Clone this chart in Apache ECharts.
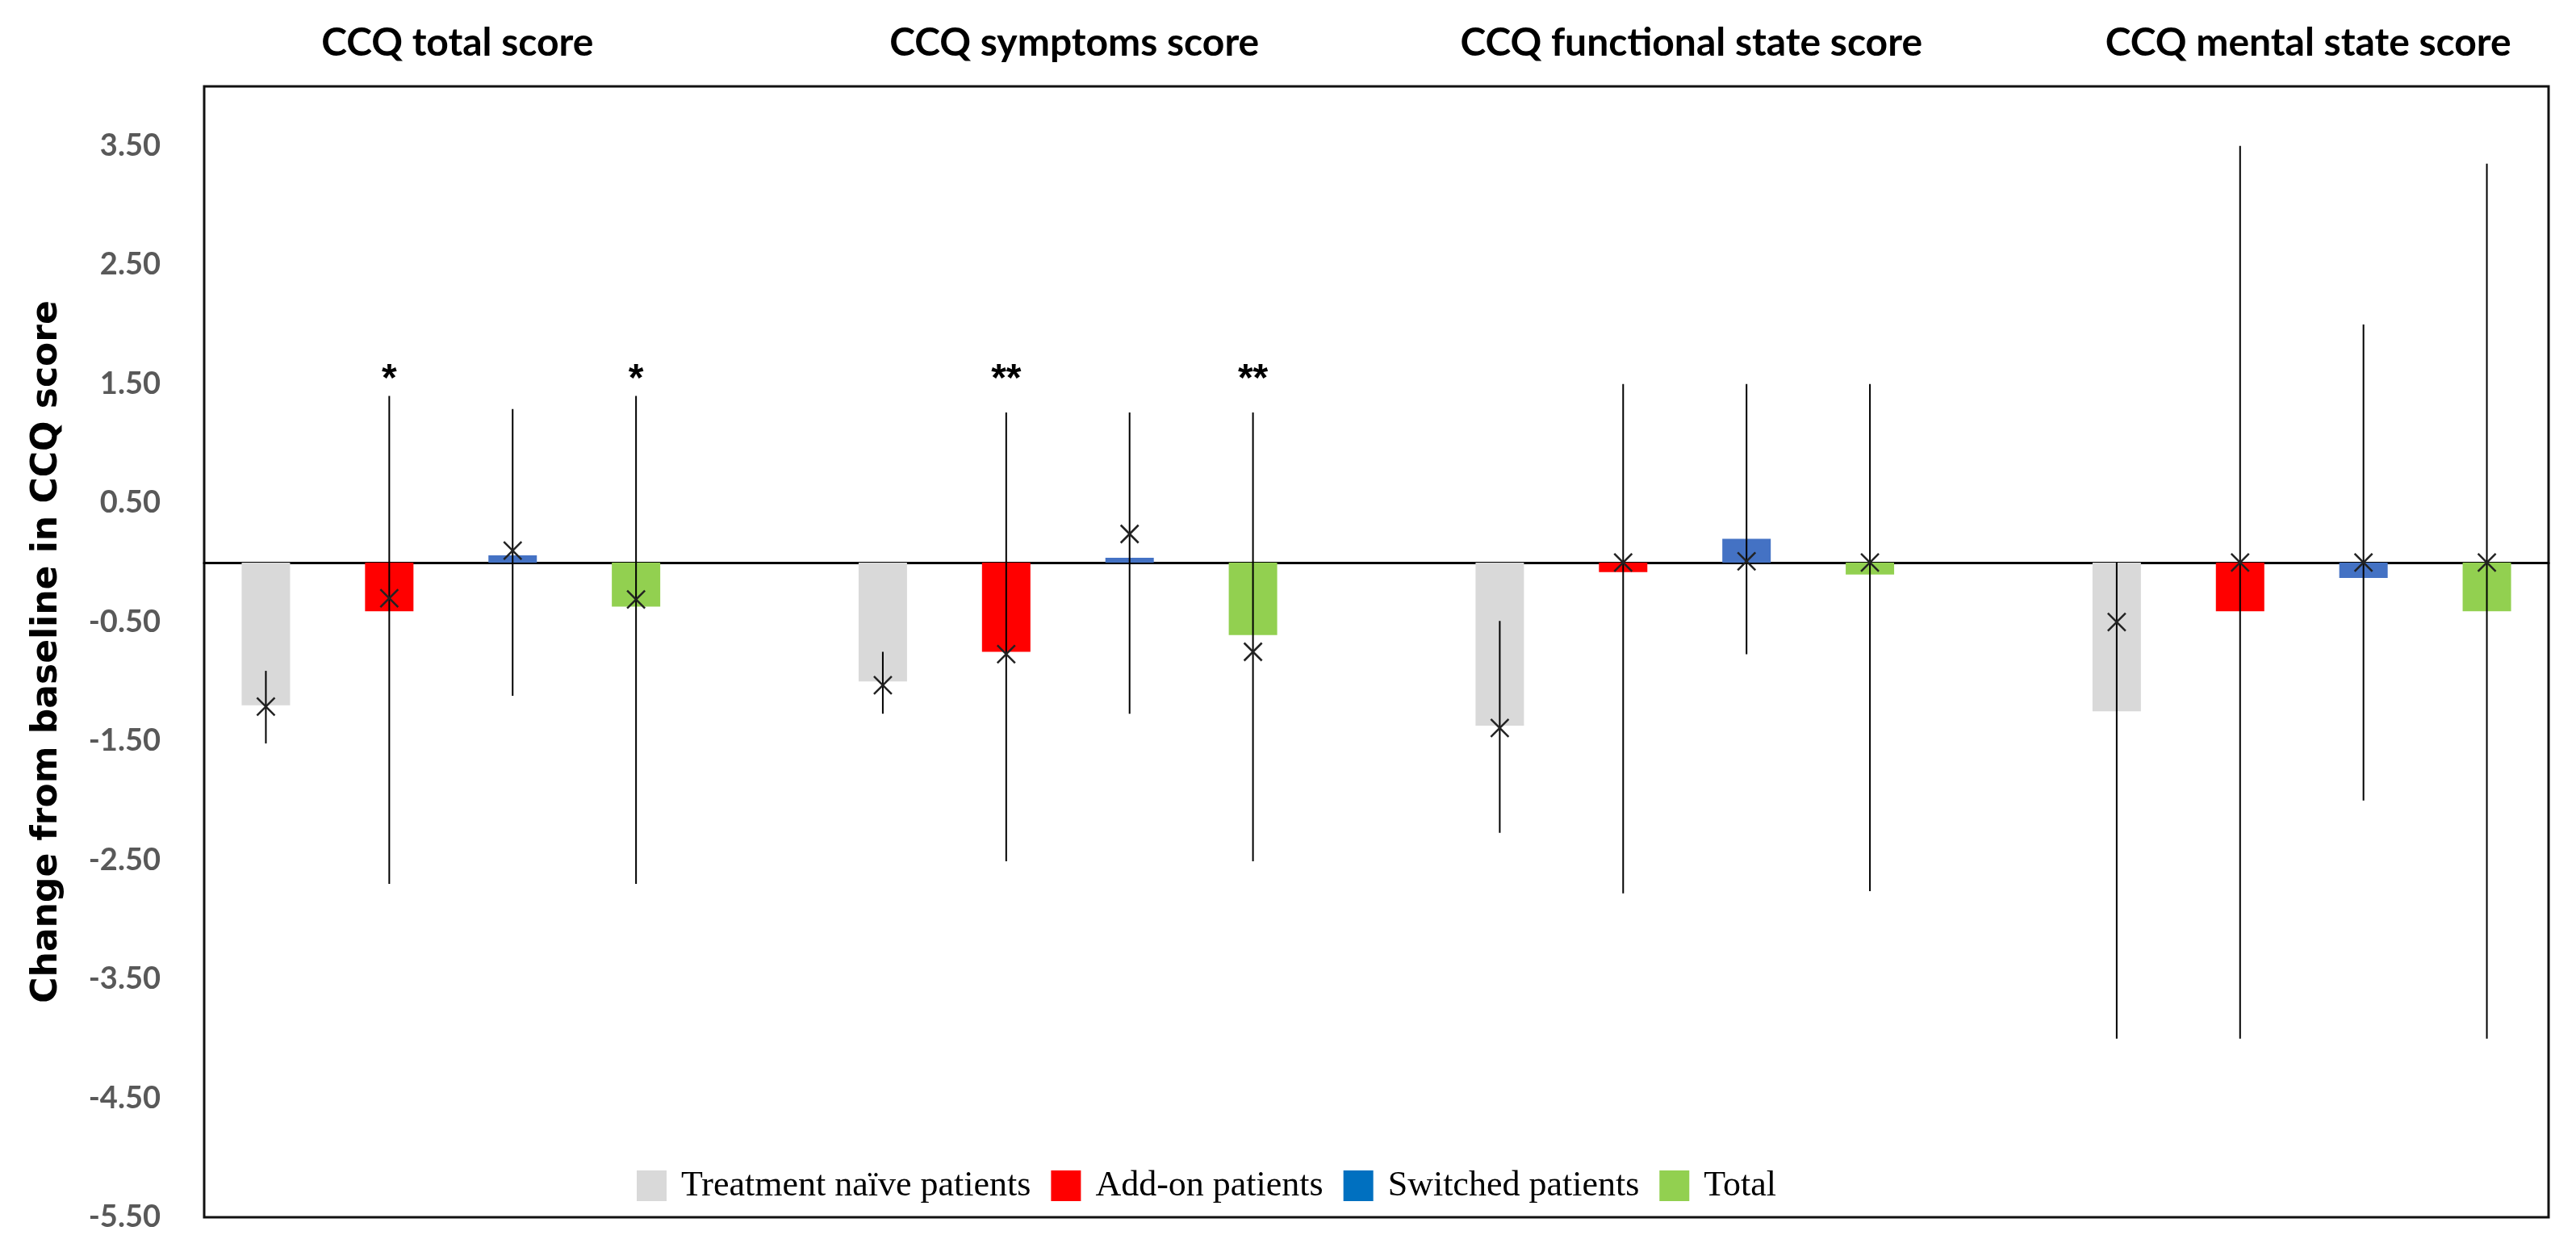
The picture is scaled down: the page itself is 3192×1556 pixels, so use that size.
<!DOCTYPE html>
<html>
<head>
<meta charset="utf-8">
<script src="https://cdn.jsdelivr.net/npm/echarts@6/dist/echarts.min.js"></script>
<style>
html,body{margin:0;padding:0;background:#fff;}
#chart{width:3192px;height:1556px;}
</style>
</head>
<body>
<div id="chart"></div>
<script>
// ---- data ----
const groups = ['CCQ total score', 'CCQ symptoms score', 'CCQ functional state score', 'CCQ mental state score'];
const seriesNames = ['Treatment naïve patients', 'Add-on patients', 'Switched patients', 'Total'];
const yTickLabels = ['3.50', '2.50', '1.50', '0.50', '-0.50', '-1.50', '-2.50', '-3.50', '-4.50', '-5.50'];

// bar heights, one value per group
const naiveBar    = [-1.20, -1.00, -1.37, -1.25];
const addonBar    = [-0.41, -0.75, -0.08, -0.41];
const switchedBar = [ 0.06,  0.04,  0.20, -0.13];
const totalBar    = [-0.37, -0.61, -0.10, -0.41];

// "x" marker values
const naiveMark    = [-1.21, -1.03, -1.39, -0.50];
const addonMark    = [-0.30, -0.77,  0.00,  0.00];
const switchedMark = [ 0.10,  0.24,  0.01,  0.00];
const totalMark    = [-0.31, -0.75,  0.00,  0.00];

// error bar low / high
const naiveLow     = [-1.52, -1.27, -2.27, -4.00];
const naiveHigh    = [-0.91, -0.75, -0.49,  0.00];
const addonLow     = [-2.70, -2.51, -2.78, -4.00];
const addonHigh    = [ 1.40,  1.26,  1.50,  3.50];
const switchedLow  = [-1.12, -1.27, -0.77, -2.00];
const switchedHigh = [ 1.29,  1.26,  1.50,  2.00];
const totalLow     = [-2.70, -2.51, -2.76, -4.00];
const totalHigh    = [ 1.40,  1.26,  1.50,  3.35];

// significance marks per group, per series
const sigMarks = [['', '*', '', '*'], ['', '**', '', '**'], ['', '', '', ''], ['', '', '', '']];

// ---- build ----
const barSets  = [naiveBar, addonBar, switchedBar, totalBar];
const markSets = [naiveMark, addonMark, switchedMark, totalMark];
const lowSets  = [naiveLow, addonLow, switchedLow, totalLow];
const highSets = [naiveHigh, addonHigh, switchedHigh, totalHigh];
const legendColors = ['#D9D9D9', '#FF0000', '#0070C0', '#92D050'];
const barColors    = ['#D9D9D9', '#FF0000', '#4472C4', '#92D050'];

const SLOTS_PER_GROUP = 5; // 4 bars + 1 gap
const nSlots = groups.length * SLOTS_PER_GROUP - 1;
const slotCats = [];
for (let i = 0; i < nSlots; i++) slotCats.push('s' + i);

const slotOf = (g, s) => g * SLOTS_PER_GROUP + s;
const SIG_Y = 1.53;

const barSeries = seriesNames.map((name, s) => {
  const data = slotCats.map(() => '-');
  groups.forEach((_, g) => {
    data[slotOf(g, s)] = { value: barSets[s][g], itemStyle: { color: barColors[s] } };
  });
  return {
    name: name, type: 'bar', data: data,
    barWidth: 60, barGap: '-100%',
    itemStyle: { color: legendColors[s] },
    z: 2, silent: true
  };
});

const errData = [];
groups.forEach((_, g) => {
  seriesNames.forEach((_, s) => {
    errData.push([slotOf(g, s), lowSets[s][g], highSets[s][g], markSets[s][g], sigMarks[g][s]]);
  });
});

const errSeries = {
  type: 'custom', name: 'err', z: 5, silent: true,
  data: errData,
  encode: { x: 0, y: [1, 2, 3] },
  renderItem: function (params, api) {
    const x = api.value(0);
    const lo = api.coord([x, api.value(1)]);
    const hi = api.coord([x, api.value(2)]);
    const mk = api.coord([x, api.value(3)]);
    const sig = errData[params.dataIndex][4];
    const c = 11;
    const style = { stroke: '#000', lineWidth: 2 };
    const children = [
      { type: 'line', shape: { x1: lo[0], y1: lo[1], x2: hi[0], y2: hi[1] }, style: style },
      { type: 'line', shape: { x1: mk[0] - c, y1: mk[1] - c, x2: mk[0] + c, y2: mk[1] + c }, style: { stroke: '#222', lineWidth: 2.5 } },
      { type: 'line', shape: { x1: mk[0] - c, y1: mk[1] + c, x2: mk[0] + c, y2: mk[1] - c }, style: { stroke: '#222', lineWidth: 2.5 } }
    ];
    if (sig) {
      const sp = api.coord([x, SIG_Y]);
      children.push({
        type: 'text', x: sp[0], y: sp[1],
        style: { text: sig, fill: '#000', font: 'bold 48px "Liberation Sans", Arial, sans-serif', textAlign: 'center', textVerticalAlign: 'middle' }
      });
    }
    return { type: 'group', children: children };
  }
};

const chart = echarts.init(document.getElementById('chart'), null, { renderer: 'canvas' });
const option = {
  backgroundColor: '#fff',
  animation: false,
  grid: { left: 253, right: 34, top: 107, bottom: 48, show: true, borderColor: '#111', borderWidth: 3, backgroundColor: 'transparent' },
  legend: {
    data: seriesNames,
    left: 784, top: 1442,
    itemWidth: 37, itemHeight: 38, itemGap: 25,
    icon: 'rect',
    selectedMode: false,
    textStyle: { fontFamily: '"Liberation Serif", "Times New Roman", serif', fontSize: 44, color: '#000', padding: [0, 0, 0, 13] }
  },
  xAxis: {
    type: 'category', data: slotCats,
    axisLine: { show: true, onZero: true, lineStyle: { color: '#000', width: 3 } },
    axisTick: { show: false },
    axisLabel: { show: false },
    splitLine: { show: false }
  },
  yAxis: {
    type: 'value', min: -5.5, max: 4, interval: 1,
    name: 'Change from baseline in CCQ score',
    nameLocation: 'middle', nameGap: 172, nameRotate: 90,
    nameTextStyle: { fontFamily: '"DejaVu Sans", Verdana, sans-serif', fontWeight: 'bold', fontSize: 44, color: '#000' },
    axisLine: { show: false },
    axisTick: { show: false },
    splitLine: { show: false },
    axisLabel: {
      margin: 54, showMaxLabel: false,
      color: '#595959', fontWeight: 'bold', fontSize: 38, fontFamily: 'Lato, "Liberation Sans", sans-serif',
      formatter: function (v) {
        const t = v.toFixed(2);
        return yTickLabels.indexOf(t) >= 0 ? t : '';
      }
    }
  },
  series: barSeries.concat([errSeries])
};
chart.setOption(option);

// group titles centred above each group of bars
const titleGraphics = groups.map((name, g) => {
  const x0 = chart.convertToPixel({ xAxisIndex: 0 }, slotOf(g, 0));
  const x3 = chart.convertToPixel({ xAxisIndex: 0 }, slotOf(g, 3));
  return {
    type: 'text', x: (x0 + x3) / 2 + 8, y: 54,
    style: { text: name, fill: '#000', font: 'bold 48px Lato, "Liberation Sans", sans-serif', textAlign: 'center', textVerticalAlign: 'middle' }
  };
});
chart.setOption({ graphic: titleGraphics });
</script>
</body>
</html>
